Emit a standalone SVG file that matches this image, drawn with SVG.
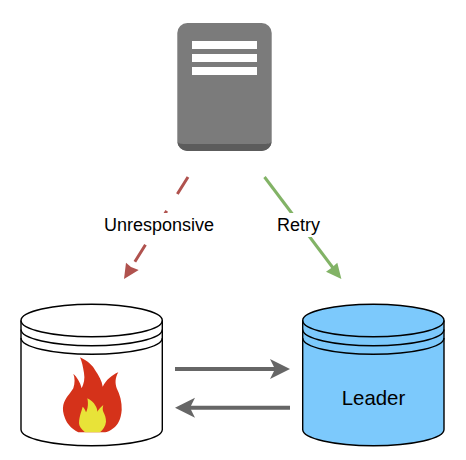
<svg xmlns="http://www.w3.org/2000/svg" width="466" height="460" viewBox="0 0 466 460">
<style>
text{font-family:"Liberation Sans",Arial,sans-serif;fill:#000;text-anchor:middle}
.lbl{font-size:18px}
.cyl{stroke:#000;stroke-width:1.4}
.ln{fill:none;stroke:#000;stroke-width:1.4}
.gr{fill:none;stroke:#666;stroke-width:4}
</style>
<rect width="466" height="460" fill="#fff"/>
<g id="client">
<path d="M177.3 33a10 10 0 0 1 10-10h74.4a10 10 0 0 1 10 10v108a10 10 0 0 1-10 10h-74.4a10 10 0 0 1-10-10z" fill="#7b7b7b"/>
<path d="M177.3 141c1 3 4 3 10 3h74.4c6 0 9 0 10-3a10 10 0 0 1-10 10h-74.4a10 10 0 0 1-10-10z" fill="#5c5c5c"/>
<rect x="192" y="41" width="65" height="8" fill="#fff"/>
<rect x="192" y="54" width="65" height="8" fill="#fff"/>
<rect x="192" y="67" width="65" height="8" fill="#fff"/>
</g>
<g id="failed-node">
<path class="cyl" fill="#fff" d="M21 320.500C21 311.500 52.600 304.300 91.700 304.300S162.300 311.500 162.300 320.500V429.500C162.300 438.500 130.800 445.700 91.700 445.700S21 438.500 21 429.500Z"/>
<path class="ln" d="M21 320.500C21 329.500 52.600 336.700 91.700 336.700S162.300 329.500 162.300 320.500M21 329.500C21 338.500 52.600 345.700 91.700 345.700S162.300 338.500 162.300 329.500M21 338C21 347 52.600 354.300 91.700 354.300S162.300 347 162.300 338"/>
<path fill="#d5321a" d="M80 357.300C88 361 93 366 95 370C99 376 102 381 102.700 386.700C106 380 112 375 118.300 372.300C115 378 115 383 116.700 388.300C120 395 122 402 121.700 410C121 419 118 425 113.300 428.300C110 431 107 432.300 105 432.300H78.300C72 429 67 424 65 418.300C63 413 62.500 409 63.300 405C65 398 70 394 73.300 388.300C75 383 75 378 73.300 373.700C77 377 80 382 81.700 388.300C84 383 85 379 84 373C83 367 82 362 80 357.300Z"/>
<path fill="#e8e338" d="M87.300 398.300C91 400 94 403 95 405C97 408 97.300 410 97.300 411.700C99 409 101 407 103.300 405C102.500 408 102.500 410 103.300 411.700C105 415 106 418 106 421.700C105.500 426 103 430 100 432.300H85C81 429 79 426 79 423.300C79 419 80 416 80.700 413.300C81.500 411 82 409 82.700 406.700C84 408 85.500 410 86 412.300C88 409 88.500 403 87.300 398.300Z"/>
</g>
<g id="leader">
<path class="cyl" fill="#7cc9fc" d="M302.700 320.500C302.700 311.500 334 304.300 373.300 304.300S444 311.500 444 320.500V429.500C444 438.500 412.500 445.700 373.300 445.700S302.700 438.500 302.700 429.500Z"/>
<path class="ln" d="M302.700 320.500C302.700 329.500 334 336.700 373.300 336.700S444 329.500 444 320.500M302.700 329.500C302.700 338.500 334 345.700 373.300 345.700S444 338.500 444 329.500M302.700 338C302.700 347 334 354.300 373.300 354.300S444 347 444 338"/>
<text x="373.500" y="405" font-size="20.400">Leader</text>
</g>
<g id="connectors">
<path d="M188 177L126.500 275" fill="none" stroke="#b0524e" stroke-width="3" stroke-dasharray="20 20"/>
<path d="M124 279L126 262.700L131 267L138.700 270Z" fill="#b0524e"/>
<path d="M264.500 177L338 274.500" fill="none" stroke="#82b366" stroke-width="3"/>
<path d="M341.400 279L337.300 262.700L332 267.500L326 271.700Z" fill="#82b366"/>
<path class="gr" d="M175 369H285"/>
<path d="M290 369L270 359L275 369L270 379Z" fill="#666"/>
<path class="gr" d="M290 407.700H180"/>
<path d="M175 407.700L195 397.700L190 407.700L195 417.700Z" fill="#666"/>
<rect x="104" y="213" width="110" height="24" fill="#fff"/>
<rect x="276" y="213" width="45" height="24" fill="#fff"/>
<text class="lbl" x="159" y="231">Unresponsive</text>
<text class="lbl" x="298.500" y="231">Retry</text>
</g>
</svg>
